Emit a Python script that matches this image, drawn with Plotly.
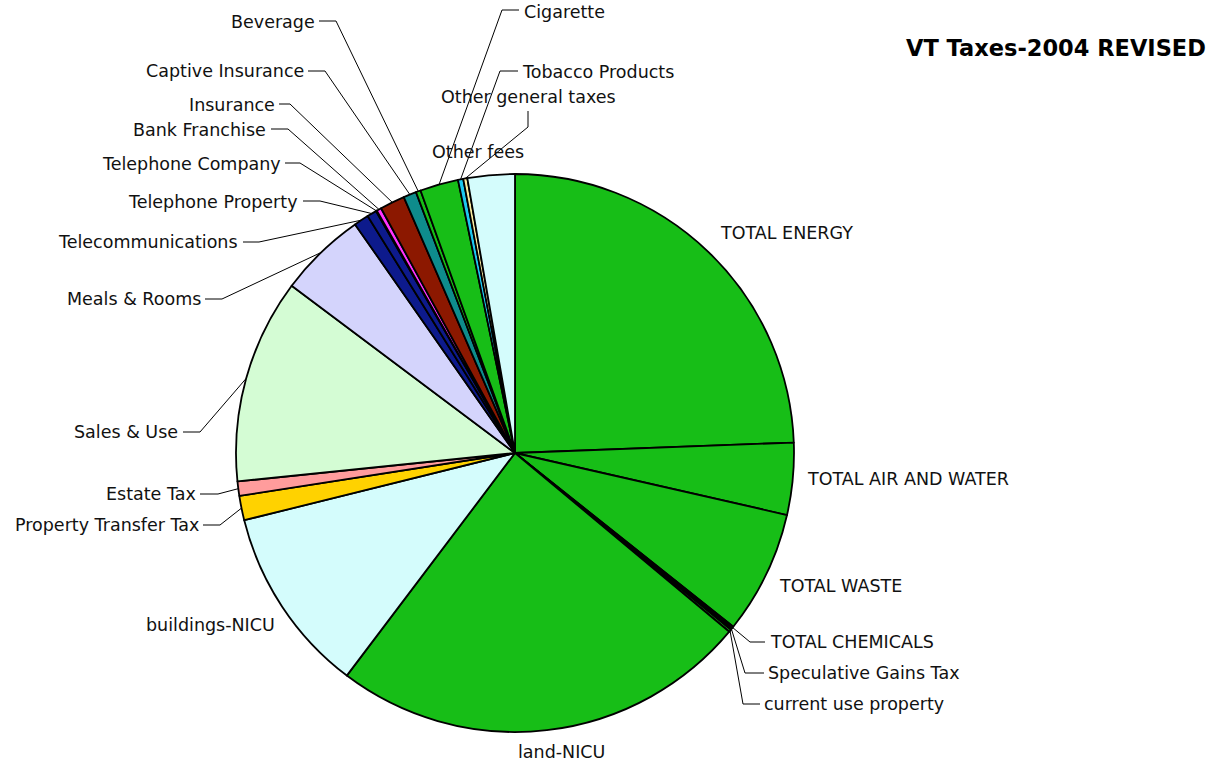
import math
import plotly.graph_objects as go

# ---------------- data (clockwise from 12 o'clock) ----------------
categories = [
    "TOTAL ENERGY", "TOTAL AIR AND WATER", "TOTAL WASTE", "TOTAL CHEMICALS",
    "Speculative Gains Tax", "current use property", "land-NICU", "buildings-NICU",
    "Property Transfer Tax", "Estate Tax", "Sales & Use", "Meals & Rooms",
    "Telecommunications", "Telephone Property", "Telephone Company", "Bank Franchise",
    "Insurance", "Captive Insurance", "Beverage", "Cigarette", "Tobacco Products",
    "Other general taxes", "Other fees",
]
values = [87.9, 15.0, 25.7, 0.4, 0.4, 0.5, 87.3, 39.0, 5.1, 3.0, 42.7, 18.2,
          3.1, 2.0, 0.2, 1.0, 5.2, 2.7, 1.0, 8.0, 1.1, 0.85, 9.85]
title_text = "VT Taxes-2004 REVISED"

# ---------------- styles ----------------
GREEN = "#17BE17"
colors = [GREEN, GREEN, GREEN, GREEN, GREEN, GREEN, GREEN, "#D4FCFC",
          "#FFD200", "#FF9C9C", "#D4FCD4", "#D4D4FC",
          "#0D1A8C", "#0D1A8C", "#0D1A8C", "#FF33FF",
          "#8C1800", "#0E8C8C", GREEN, GREEN, "#1EC8F0",
          "#FAEBA0", "#D4FCFC"]

W, H = 1225, 765
CX, CY, R = 515, 453, 279

# label placement (pixels): text anchor x, y, xanchor, and leader elbow points
label_x = [718, 805, 777, 768, 766, 762, 561, 210, 201, 198, 180, 203,
           240, 300, 283, 268, 277, 306, 317, 522, 520, 528, 478]
label_y = [233, 479, 586, 642, 673, 704, 752, 625, 525, 494, 432, 299,
           242, 202, 164, 130, 105, 71, 22, 12, 72, 97, 152]
label_anchor = ["left", "left", "left", "left", "left", "left", "center", "center",
                "right", "right", "right", "right", "right", "right", "right", "right",
                "right", "right", "right", "left", "left", "center", "center"]
leaders = [
    None, None, None,
    [(765, 642), (750, 642)],
    [(764, 673), (745, 673)],
    [(760, 704), (743, 704)],
    None, None,
    [(203, 525), (220, 525)],
    [(200, 494), (218, 494)],
    [(183, 432), (200, 432)],
    [(205, 299), (222, 299)],
    [(243, 242), (259, 242)],
    [(303, 201), (320, 201)],
    [(285, 163), (300, 163)],
    [(271, 129), (288, 129)],
    [(279, 104), (290, 104)],
    [(308, 71), (325, 71)],
    [(319, 21), (336, 21)],
    [(519, 10), (502, 10)],
    [(518, 71), (500, 71)],
    [(528, 111), (528, 127)],
    None,
]

FONT = "DejaVu Sans, Verdana, sans-serif"

fig = go.Figure()
fig.add_trace(go.Pie(
    labels=categories, values=values, sort=False, direction="clockwise", rotation=0,
    marker=dict(colors=colors, line=dict(color="black", width=1.8)),
    textinfo="none", hoverinfo="label+value+percent", showlegend=False,
    domain=dict(x=[(CX - R) / W, (CX + R) / W], y=[(H - CY - R) / H, (H - CY + R) / H]),
))

# leader lines: from label elbow to the rim at each slice's mid-angle
total = sum(values)
cum = 0.0
xs, ys = [], []
for v, pts in zip(values, leaders):
    mid = (cum + v / 2.0) / total * 2 * math.pi
    cum += v
    if pts:
        rim = (CX + R * math.sin(mid), CY - R * math.cos(mid))
        for p in list(pts) + [rim]:
            xs.append(p[0]); ys.append(p[1])
        xs.append(None); ys.append(None)
fig.add_trace(go.Scatter(x=xs, y=ys, mode="lines", line=dict(color="black", width=1),
                         hoverinfo="skip", showlegend=False))

annotations = []
for name, x, y, anc in zip(categories, label_x, label_y, label_anchor):
    annotations.append(dict(x=x, y=y, xref="x", yref="y", text=name, showarrow=False,
                            xanchor=anc, yanchor="middle",
                            font=dict(family=FONT, size=17.5, color="#111111")))
annotations.append(dict(x=1208, y=48, xref="x", yref="y", text="<b>" + title_text + "</b>",
                        showarrow=False, xanchor="right", yanchor="middle",
                        font=dict(family=FONT, size=22.5, color="black")))

fig.update_layout(
    width=W, height=H, margin=dict(l=0, r=0, t=0, b=0),
    paper_bgcolor="white", plot_bgcolor="white",
    xaxis=dict(range=[0, W], visible=False, fixedrange=True),
    yaxis=dict(range=[H, 0], visible=False, fixedrange=True),
    annotations=annotations,
)
fig.write_html("out.html", config={"displayModeBar": False})

# remove the browser's default page margin so the figure sits at the window's corner
with open("out.html", "r", encoding="utf-8") as f:
    html = f.read()
html = html.replace("<head>", "<head><style>html,body{margin:0;padding:0;overflow:hidden}</style>", 1)
with open("out.html", "w", encoding="utf-8") as f:
    f.write(html)
